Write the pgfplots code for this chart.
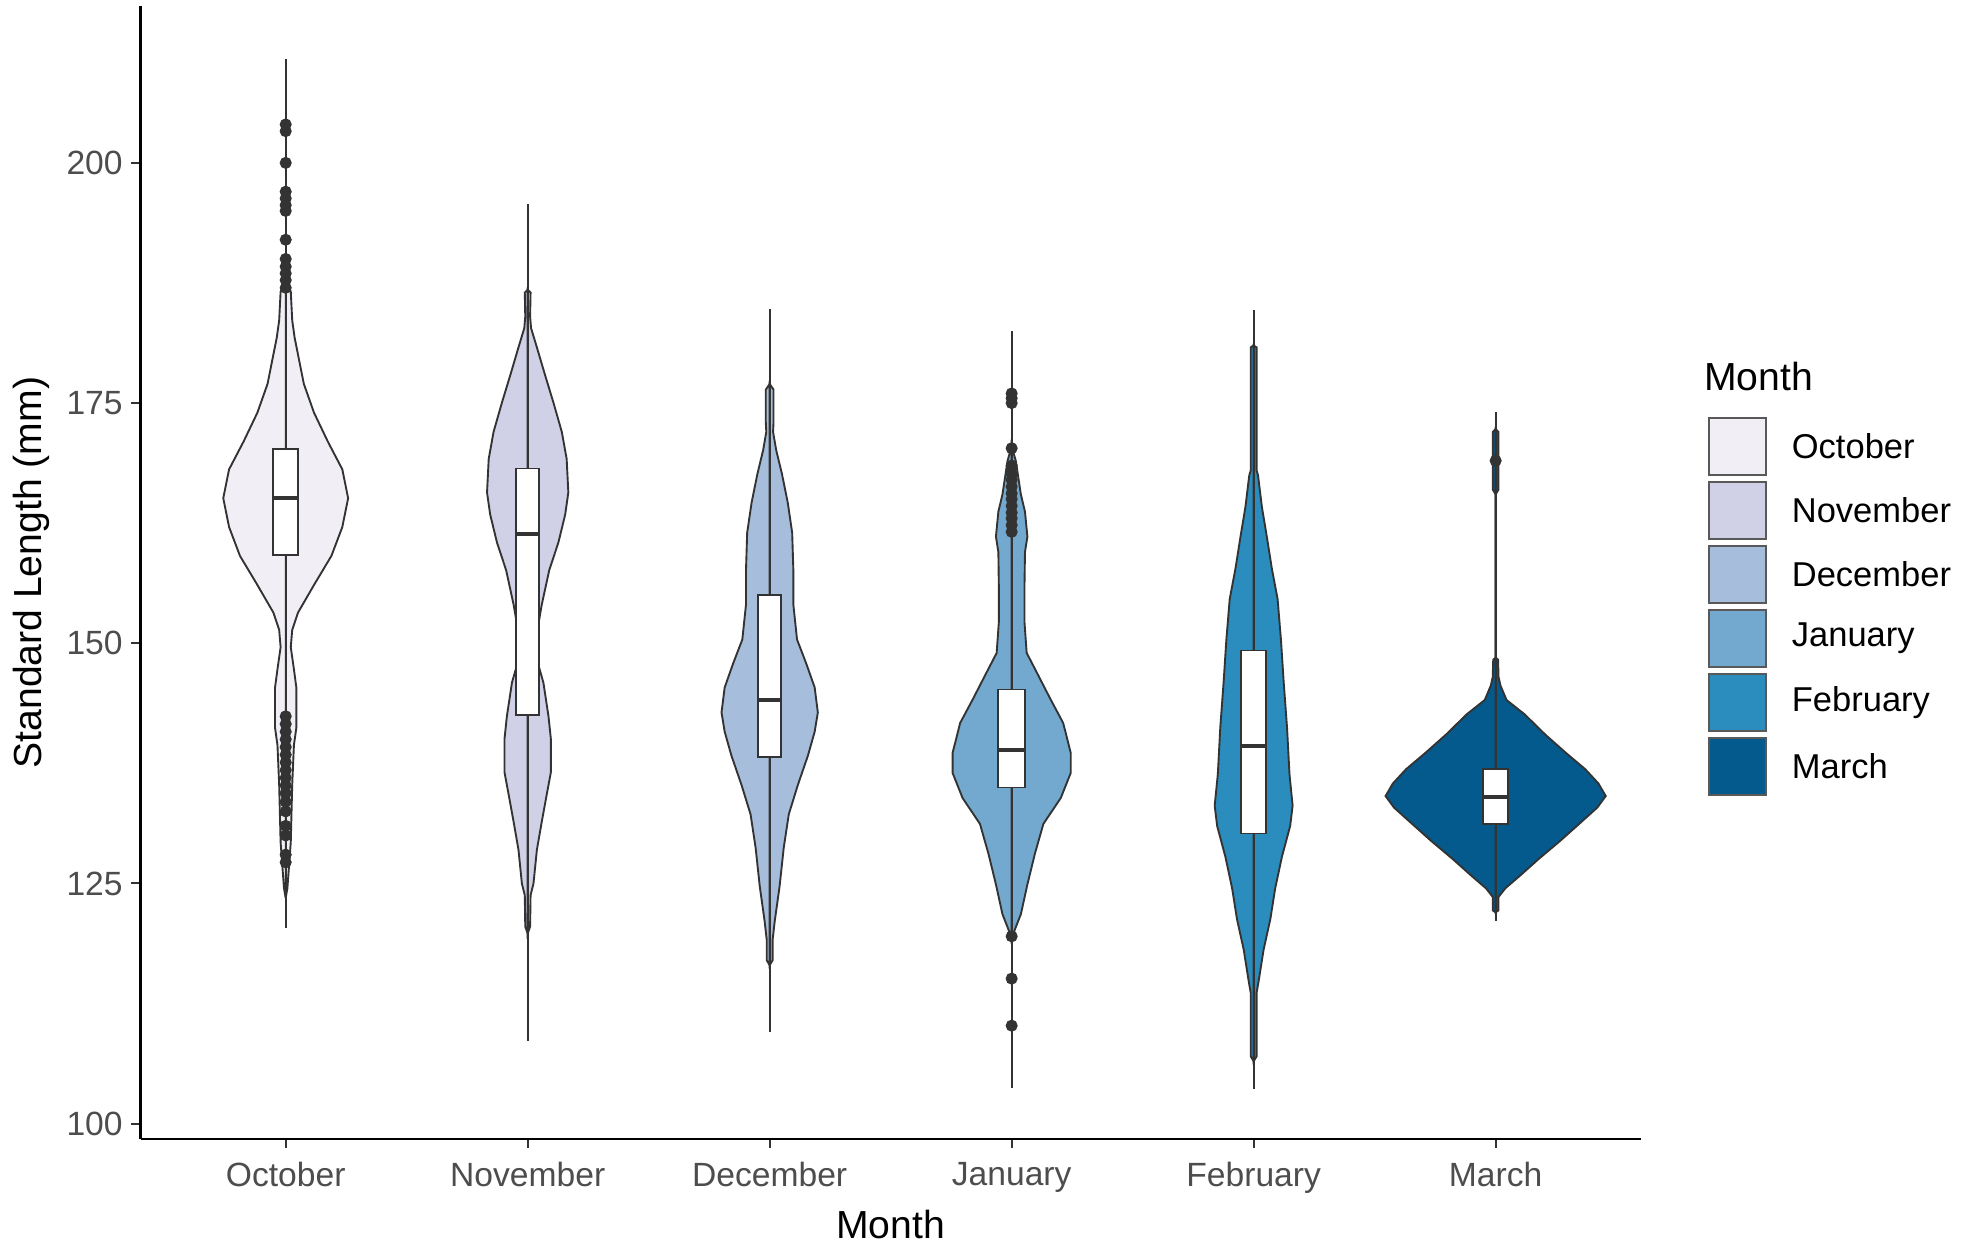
\documentclass[border=0pt]{standalone}
\usepackage{pgfplots}
\usepackage{pgfplotstable}
\usepackage{fontspec}
\setmainfont{Liberation Sans}
\pgfplotsset{compat=1.18}

\definecolor{octc}{HTML}{F1EEF6}
\definecolor{novc}{HTML}{D0D1E6}
\definecolor{decc}{HTML}{A6BDDB}
\definecolor{janc}{HTML}{74A9CF}
\definecolor{febc}{HTML}{2B8CBE}
\definecolor{marc}{HTML}{045A8D}
\definecolor{vline}{HTML}{333333}
\definecolor{tickgray}{HTML}{4D4D4D}

% violin outlines: y and half width (category units)
\pgfplotstableread{
y hw
188.0 0
186.6 0.021
183.6 0.027
181.8 0.037
177.0 0.075
174.0 0.117
171.0 0.174
168.1 0.234
165.1 0.258
162.1 0.234
159.1 0.189
156.2 0.120
153.2 0.051
151.4 0.027
149.6 0.021
147.3 0.034
145.4 0.044
141.2 0.044
139.4 0.034
135.3 0.027
129.3 0.021
124.5 0.007
123.5 0
}\octv
\pgfplotstableread{
y hw
186.8 0
186.5 0.012
184.0 0.010
182.8 0.014
180.8 0.038
177.9 0.072
175.0 0.107
172.0 0.141
169.2 0.161
165.7 0.168
163.4 0.155
160.5 0.127
157.6 0.089
154.0 0.058
151.5 0.041
149.5 0.036
147.5 0.047
145.9 0.065
142.4 0.086
140.0 0.096
136.6 0.096
134.3 0.079
131.4 0.058
128.5 0.038
125.0 0.024
123.8 0.012
120.5 0.010
119.8 0
}\novv
\pgfplotstableread{
y hw
177.0 0
176.4 0.016
173.0 0.016
172.0 0.014
170.1 0.027
167.6 0.051
164.6 0.075
161.5 0.093
157.5 0.098
154.0 0.098
150.4 0.113
147.9 0.151
145.4 0.186
142.8 0.199
140.8 0.186
138.3 0.158
135.3 0.117
132.2 0.079
128.7 0.058
124.7 0.041
121.1 0.021
119.1 0.012
117.0 0.012
116.5 0
}\decv
\pgfplotstableread{
y hw
170.5 0
169.0 0.017
165.5 0.038
163.7 0.055
161.1 0.065
159.5 0.055
155.9 0.053
152.2 0.053
149.0 0.062
147.0 0.103
144.3 0.158
141.7 0.213
138.6 0.244
136.5 0.244
133.9 0.203
131.2 0.131
128.1 0.096
124.9 0.065
121.8 0.038
120.0 0.010
119.3 0
}\janv
\pgfplotstableread{
y hw
181.0 0
180.8 0.012
168.0 0.012
167.5 0.018
164.2 0.034
161.0 0.055
157.8 0.075
154.6 0.099
150.3 0.113
146.0 0.124
141.2 0.138
136.4 0.148
133.1 0.161
131.0 0.151
127.8 0.117
124.5 0.089
121.3 0.069
118.1 0.041
114.9 0.021
113.6 0.012
107.0 0.012
106.5 0
}\febv
\pgfplotstableread{
y hw
172.3 0
172.0 0.012
166.0 0.012
165.5 0
148.5 0
148.3 0.010
146.5 0.012
145.6 0.020
144.1 0.045
142.6 0.120
140.5 0.205
138.6 0.290
136.9 0.370
135.4 0.425
134.1 0.455
132.9 0.420
131.2 0.345
129.4 0.265
127.6 0.180
125.8 0.100
124.5 0.040
123.6 0.012
122.2 0.012
122.0 0
}\marv

\newcommand{\violin}[3]{%
  \addplot[fill=#3, draw=vline, line width=0.75pt] table[x expr={#2+\thisrow{hw}}, y=y] {#1} -- cycle;
  \addplot[fill=#3, draw=vline, line width=0.75pt] table[x expr={#2-\thisrow{hw}}, y=y] {#1} -- cycle;
}

\begin{document}
\begin{tikzpicture}
\begin{axis}[
  scale only axis,
  width=598pt, height=451.5pt,
  xmin=0.4, xmax=6.6, ymin=98.4, ymax=216.3,
  axis x line=bottom, axis y line=left,
  every outer x axis line/.append style={-},
  every outer y axis line/.append style={-},
  every inner x axis line/.append style={-},
  every inner y axis line/.append style={-},
  axis line style={line width=0.9pt, black},
  tick align=outside,
  major tick length=3.6pt,
  tick style={line width=0.8pt, vline},
  xtick={1,2,3,4,5,6},
  xticklabels={October,November,December,January,February,March},
  ytick={100,125,150,175,200},
  /pgf/number format/assume math mode=true,
  ticklabel style={font=\fontsize{13.4}{16}\selectfont, text=tickgray},
  xticklabel style={yshift=-2pt},
  xlabel={Month},
  ylabel={Standard Length (mm)},
  label style={font=\fontsize{15.6}{18}\selectfont},
  no markers,
]
% violins
\violin{\octv}{1}{octc}
\violin{\novv}{2}{novc}
\violin{\decv}{3}{decc}
\violin{\janv}{4}{janc}
\violin{\febv}{5}{febc}
\violin{\marv}{6}{marc}

% whisker lines
\addplot[vline, line width=0.8pt] coordinates {(1,120.4) (1,210.8)};
\addplot[vline, line width=0.8pt] coordinates {(2,108.6) (2,195.7)};
\addplot[vline, line width=0.8pt] coordinates {(3,109.5) (3,184.8)};
\addplot[vline, line width=0.8pt] coordinates {(4,103.7) (4,182.5)};
\addplot[vline, line width=0.8pt] coordinates {(5,103.6) (5,184.7)};
\addplot[vline, line width=0.8pt] coordinates {(6,121.1) (6,174.1)};

% boxes
\addplot[fill=white, draw=vline, line width=0.7pt] coordinates {(0.948,159.2) (1.052,159.2) (1.052,170.2) (0.948,170.2)} -- cycle;
\addplot[fill=white, draw=vline, line width=0.7pt] coordinates {(1.952,142.5) (2.048,142.5) (2.048,168.2) (1.952,168.2)} -- cycle;
\addplot[fill=white, draw=vline, line width=0.7pt] coordinates {(2.952,138.2) (3.048,138.2) (3.048,155.05) (2.952,155.05)} -- cycle;
\addplot[fill=white, draw=vline, line width=0.7pt] coordinates {(3.945,135.0) (4.055,135.0) (4.055,145.2) (3.945,145.2)} -- cycle;
\addplot[fill=white, draw=vline, line width=0.7pt] coordinates {(4.948,130.2) (5.052,130.2) (5.052,149.25) (4.948,149.25)} -- cycle;
\addplot[fill=white, draw=vline, line width=0.7pt] coordinates {(5.948,131.2) (6.052,131.2) (6.052,136.9) (5.948,136.9)} -- cycle;

% medians
\addplot[vline, line width=1.4pt] coordinates {(0.948,165.1) (1.052,165.1)};
\addplot[vline, line width=1.4pt] coordinates {(1.952,161.4) (2.048,161.4)};
\addplot[vline, line width=1.4pt] coordinates {(2.952,144.1) (3.048,144.1)};
\addplot[vline, line width=1.4pt] coordinates {(3.945,138.9) (4.055,138.9)};
\addplot[vline, line width=1.4pt] coordinates {(4.948,139.3) (5.052,139.3)};
\addplot[vline, line width=1.4pt] coordinates {(5.948,134.0) (6.052,134.0)};

% outliers
\addplot[only marks, mark=*, mark size=2.2pt, vline, mark options={fill=vline}] coordinates {
(1,204) (1,203.3) (1,200) (1,197) (1,196.3) (1,195.6) (1,195) (1,192) (1,190)
(1,189.2) (1,188.5) (1,187.8) (1,187)
(1,142.4) (1,141.6) (1,140.8) (1,140) (1,139.2) (1,138.4) (1,137.6) (1,136.8)
(1,136) (1,135.2) (1,134.4) (1,133.5) (1,132.5) (1,131) (1,130) (1,128) (1,127.2)
(4,176) (4,175.5) (4,175) (4,170.3) (4,168.5) (4,167.6) (4,167) (4,166.3)
(4,165.6) (4,165) (4,164.3) (4,163.6) (4,163) (4,162.3) (4,161.6)
(4,119.5) (4,115.1) (4,110.2)
(6,169)
};
\end{axis}

% legend
\node[anchor=base west, inner sep=0pt, font=\fontsize{15.6}{18}\selectfont] at (623pt,298.5pt) {Month};
\foreach \c/\lab [count=\i from 0] in {octc/October,novc/November,decc/December,janc/January,febc/February,marc/March} {
  \draw[fill=\c, draw=black!65, line width=0.8pt] (625pt,{287.5pt-\i*25.5pt}) rectangle (648pt,{264.5pt-\i*25.5pt});
  \node[anchor=west, inner sep=0pt, font=\fontsize{13.75}{16}\selectfont] at (658pt,{276pt-\i*25.5pt}) {\lab};
}

\pgfresetboundingbox
\path[use as bounding box] (-56pt,-42pt) rectangle (728pt,454pt);
\end{tikzpicture}
\end{document}
